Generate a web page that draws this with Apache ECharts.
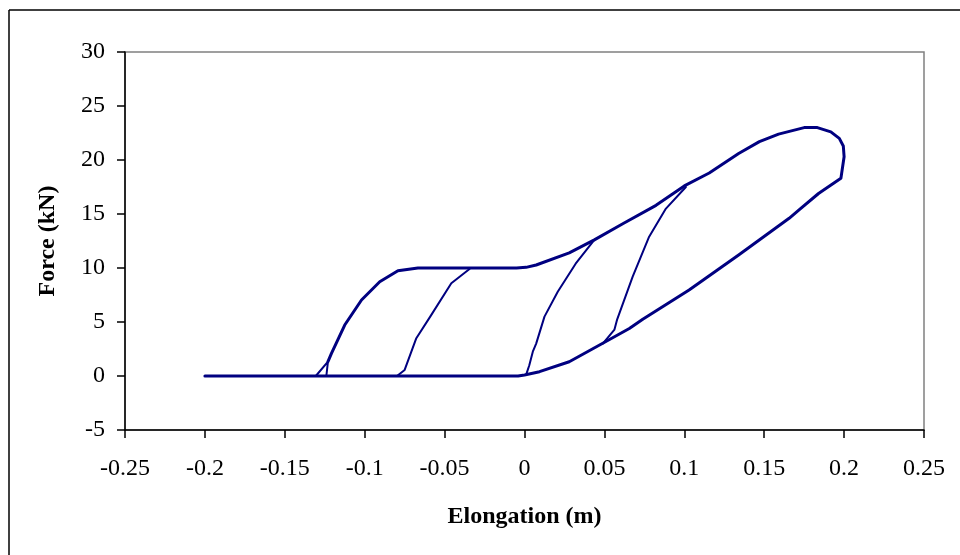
<!DOCTYPE html>
<html>
<head>
<meta charset="utf-8">
<script src="https://cdn.jsdelivr.net/npm/echarts@6/dist/echarts.min.js"></script>
<style>html,body{margin:0;padding:0;background:#fff;}#c{width:960px;height:555px;}</style>
</head>
<body>
<div id="c"></div>
<script>
// Main (thick) hysteresis envelope: elongation (m) and force (kN)
const envelopeX = [-0.2, -0.004, 0, 0.0094, 0.028, 0.047, 0.0656, 0.074, 0.103, 0.134, 0.1656, 0.172, 0.184, 0.198, 0.2, 0.1995, 0.197, 0.1917, 0.1833, 0.175, 0.159, 0.147, 0.134, 0.1156, 0.1, 0.0823, 0.0615, 0.0437, 0.028, 0.0073, 0.001, -0.005, -0.0667, -0.0792, -0.0906, -0.102, -0.1125, -0.1208, -0.123];
const envelopeF = [0, 0, 0.1, 0.4, 1.32, 2.87, 4.4, 5.25, 7.96, 11.2, 14.6, 15.4, 16.9, 18.3, 20.3, 21.3, 22.0, 22.6, 23.0, 23.0, 22.4, 21.7, 20.6, 18.8, 17.6, 15.8, 14.1, 12.6, 11.4, 10.28, 10.06, 10, 10, 9.75, 8.73, 7.04, 4.72, 2.1, 1.33];

// Thin inner reloading branches
const branch1X = [-0.1306, -0.123, -0.124];
const branch1F = [0, 1.33, 0];
const branch2X = [-0.0798, -0.075, -0.0677, -0.059, -0.0458, -0.0344];
const branch2F = [0, 0.56, 3.5, 5.5, 8.58, 9.9];
const branch3X = [0.001, 0.003, 0.0052, 0.0073, 0.0125, 0.0208, 0.032, 0.0437];
const branch3F = [0.1, 1.0, 2.25, 3.0, 5.5, 7.8, 10.4, 12.6];
const branch4X = [0.049, 0.0563, 0.058, 0.0677, 0.078, 0.0885, 0.101];
const branch4F = [3.0, 4.3, 5.25, 9.2, 12.9, 15.5, 17.5];

const xAxisName = 'Elongation (m)';
const yAxisName = 'Force (kN)';

function pairs(xs, ys) { return xs.map((x, i) => [x, ys[i]]); }

const FONT = 'Liberation Serif, Times New Roman, serif';
const NAVY = '#000080';

function lineSeries(xs, ys, w) {
  return {
    type: 'line', data: pairs(xs, ys), showSymbol: false, symbol: 'none',
    lineStyle: { color: NAVY, width: w, join: 'round', cap: 'round' }, itemStyle: { color: NAVY },
    animation: false, silent: true
  };
}

const chart = echarts.init(document.getElementById('c'), null, { renderer: 'canvas' });
chart.setOption({
  backgroundColor: '#fff',
  animation: false,
  grid: { left: 125, top: 52, right: 36, bottom: 125, show: true, borderColor: '#808080', borderWidth: 1.5, backgroundColor: '#fff' },
  xAxis: {
    type: 'value', min: -0.25, max: 0.25, interval: 0.05,
    name: xAxisName, nameLocation: 'middle', nameGap: 75,
    nameTextStyle: { fontFamily: FONT, fontSize: 24, fontWeight: 'bold', color: '#000' },
    axisLine: { onZero: false, lineStyle: { color: '#000', width: 1.5 } },
    axisTick: { show: true, length: 8, inside: false, lineStyle: { color: '#000', width: 1.5 } },
    axisLabel: { fontFamily: FONT, fontSize: 24, color: '#000', margin: 27,
      formatter: v => String(parseFloat(v.toFixed(2))) },
    splitLine: { show: false }
  },
  yAxis: {
    type: 'value', min: -5, max: 30, interval: 5,
    name: yAxisName, nameLocation: 'middle', nameGap: 65, nameRotate: 90,
    nameTextStyle: { fontFamily: FONT, fontSize: 24, fontWeight: 'bold', color: '#000' },
    axisLine: { show: true, onZero: false, lineStyle: { color: '#000', width: 1.5 } },
    axisTick: { show: true, length: 8, lineStyle: { color: '#000', width: 1.5 } },
    axisLabel: { fontFamily: FONT, fontSize: 24, color: '#000', margin: 20 },
    splitLine: { show: false }
  },
  series: [
    lineSeries(envelopeX, envelopeF, 3),
    lineSeries(branch1X, branch1F, 2),
    lineSeries(branch2X, branch2F, 2),
    lineSeries(branch3X, branch3F, 2),
    lineSeries(branch4X, branch4F, 2)
  ],
  graphic: [
    { type: 'line', shape: { x1: 9, y1: 10, x2: 960, y2: 10 }, style: { stroke: '#000', lineWidth: 1.5 }, silent: true },
    { type: 'line', shape: { x1: 9, y1: 10, x2: 9, y2: 555 }, style: { stroke: '#000', lineWidth: 1.5 }, silent: true }
  ]
});
</script>
</body>
</html>
